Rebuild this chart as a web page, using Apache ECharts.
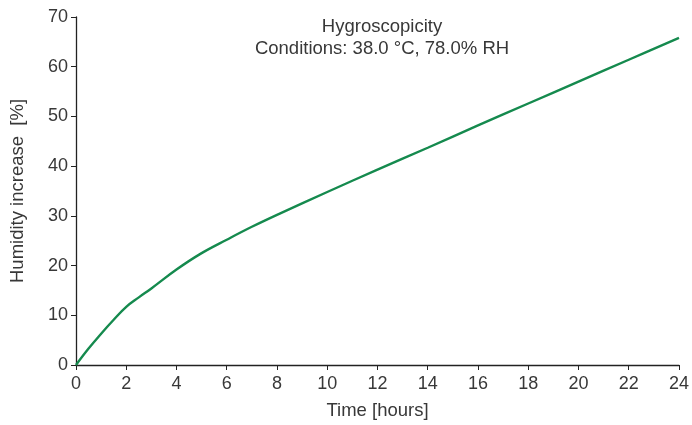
<!DOCTYPE html>
<html>
<head>
<meta charset="utf-8">
<script src="https://cdn.jsdelivr.net/npm/echarts@6/dist/echarts.min.js"></script>
<style>html,body{margin:0;padding:0;background:#fff}#c{width:692px;height:425px}</style>
</head>
<body>
<div id="c"></div>
<script>
const hours = [0, 0.5, 1, 1.5, 2, 2.5, 3, 4, 5, 6, 7, 8, 10, 12, 14, 16, 18, 20, 22, 24];
const humidity = [0, 3.3, 6.3, 9.1, 11.7, 13.6, 15.4, 19.2, 22.5, 25.2, 27.8, 30.2, 34.8, 39.3, 43.7, 48.2, 52.6, 57.0, 61.4, 65.8];
const titleLines = ['Hygroscopicity', 'Conditions: 38.0 °C, 78.0% RH'];

const font = 'Liberation Sans, Arial, sans-serif';
const txt = '#383838';
const chart = echarts.init(document.getElementById('c'), null, {renderer: 'canvas'});
chart.setOption({
  animation: false,
  backgroundColor: '#fff',
  title: {
    text: titleLines.join('\n'),
    left: 377, top: 11, textAlign: 'center',
    textStyle: {fontFamily: font, fontSize: 18.5, fontWeight: 'normal', color: txt, lineHeight: 22}
  },
  grid: {left: 76, right: 13, top: 17, bottom: 58, containLabel: false},
  xAxis: {
    type: 'value', min: 0, max: 24, interval: 2,
    name: 'Time [hours]', nameLocation: 'middle', nameGap: 36,
    nameTextStyle: {fontFamily: font, fontSize: 18.5, color: txt},
    axisLine: {lineStyle: {color: '#222', width: 1.3}},
    axisTick: {show: true, length: 5, lineStyle: {color: '#222'}},
    axisLabel: {fontFamily: font, fontSize: 18, color: txt, margin: 10},
    splitLine: {show: false}
  },
  yAxis: {
    type: 'value', min: 0, max: 70, interval: 10,
    name: 'Humidity increase  [%]', nameLocation: 'middle', nameGap: 49,
    nameTextStyle: {fontFamily: font, fontSize: 18.5, color: txt},
    axisLine: {show: true, lineStyle: {color: '#222', width: 1.3}},
    axisTick: {show: true, length: 5, lineStyle: {color: '#222'}},
    axisLabel: {fontFamily: font, fontSize: 18, color: txt, margin: 8},
    splitLine: {show: false}
  },
  series: [{
    type: 'line',
    data: hours.map((h, i) => [h, humidity[i]]),
    smooth: 0.4,
    showSymbol: false,
    lineStyle: {color: '#158a4e', width: 2.4},
    z: 1
  }]
});
</script>
</body>
</html>
